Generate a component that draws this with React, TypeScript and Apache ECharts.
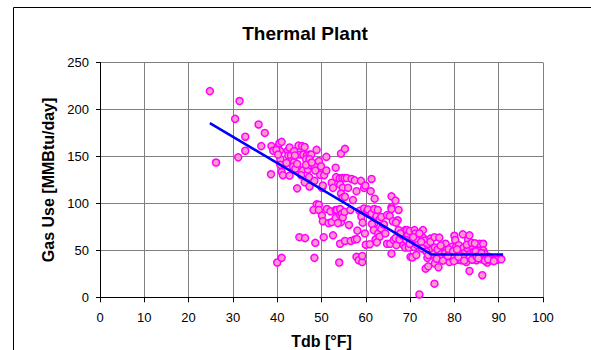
import React, { useEffect, useRef } from "react";
import * as echarts from "echarts";

const xTicks = [0, 10, 20, 30, 40, 50, 60, 70, 80, 90, 100];
const yTicks = [0, 50, 100, 150, 200, 250];

// Measured points: [Tdb °F, Gas Use MMBtu/day]
const measured: number[][] = [
  [24.8, 219.5], [26.2, 143.5], [31.5, 209], [30.5, 190], [31.2, 149], [32.8, 171], [32.8, 156],
  [35.8, 184], [36.4, 161], [37.2, 175], [38.6, 131], [38.7, 161], [39.1, 156], [40.1, 160],
  [40.5, 164], [41, 165.5], [40.6, 156], [40.7, 147], [40.7, 141], [41, 133.5], [41.3, 130],
  [40, 37], [41, 42], [42.4, 156], [42.8, 159.5], [42.5, 151], [43.1, 151], [43.3, 145],
  [43.8, 144], [42.8, 129.5], [43.6, 139], [44.8, 161.5], [45.6, 161], [46.2, 160], [45.2, 152],
  [45.9, 152], [46.7, 151], [47.3, 152], [47.7, 152], [46.5, 147], [47.3, 147], [44.9, 135],
  [45.6, 135], [44.5, 139], [44.1, 137], [45.4, 130], [46.2, 122.5], [46.9, 136], [47.6, 140.5],
  [47.2, 128], [47.3, 118], [44.5, 116], [48.4, 139.5], [48.9, 157], [49.4, 145], [49.6, 136],
  [49.9, 139.5], [49.7, 130.5], [48.4, 124], [50.1, 116.5], [50.3, 119], [50.6, 130], [51.1, 149.5],
  [51.1, 135], [53.2, 138], [52.3, 122], [52.6, 116.5], [53.6, 127], [54.4, 153], [55.3, 158],
  [53.3, 128], [54.1, 126.5], [54.7, 127], [55.2, 127], [54.2, 120], [54.8, 116.5], [54.4, 110.5],
  [54.8, 106], [55.7, 127], [56.8, 126], [56, 116.5], [57.5, 124.5], [58.9, 124], [57.9, 113],
  [59.6, 116.5], [59.9, 119], [61.3, 126], [61.1, 113], [62, 105],
  [39.8, 157], [40.2, 152], [42.1, 143], [43.8, 155.5], [44, 151], [46.5, 141], [47.8, 143.5],
  [48.6, 135], [44.5, 142], [55.3, 107], [57.1, 103.5],
  [48.9, 99], [49.4, 98.5], [48.2, 93], [49.4, 93], [50.1, 87], [50.3, 81], [51.2, 94],
  [52, 91.5], [51.6, 79], [52.3, 80], [52.6, 66], [53.2, 93], [53.6, 89], [53.2, 84.5],
  [53.5, 93], [54.2, 87.5], [54.2, 94], [54.4, 80], [53.7, 79], [54.6, 89], [54.8, 85],
  [55.2, 91], [54.2, 57], [55.3, 60], [56.5, 93], [56.2, 77], [56.6, 60], [57.5, 61.5],
  [58, 62], [58.1, 71], [58.6, 92], [59, 86], [59.3, 79.5], [59.8, 68], [60, 56],
  [59.6, 94.5], [60.3, 92], [60.5, 93.5], [61.3, 89], [61.9, 94], [62.4, 86.5], [61.9, 78.5],
  [61.4, 78], [60.9, 56.5], [61.8, 71.5], [62.2, 61.5], [62.8, 68], [63.1, 83], [63.5, 73],
  [63.1, 64.5], [62.5, 58.5], [64.1, 77.5], [62.7, 93], [63.5, 85.5],
  [45, 64], [46.3, 63], [48.6, 58], [50.5, 64], [48.4, 42], [54, 37], [57.9, 43],
  [58.4, 39.5], [59.2, 37.5], [59.2, 44],
  [65.8, 107.5], [66.7, 103], [65.8, 96], [65.8, 94], [67.4, 93], [64.8, 87.5], [65.4, 86.5],
  [66.1, 81], [67.2, 82], [66.8, 79.5], [64.4, 68], [64.8, 57], [65.5, 57], [65.8, 46.5],
  [66.3, 61], [66.7, 63], [66.9, 55.5], [67.4, 71.5], [67.6, 61.5], [68.2, 66], [68.5, 55.5],
  [68.9, 71.5], [69.3, 71.5], [69.5, 66], [69.9, 70.5], [68.9, 53], [69.7, 53], [70.1, 43],
  [70.5, 42.5], [70.4, 61.5], [71, 71.5], [71.2, 68], [71.4, 61.5], [70.9, 53.5], [71.6, 55.5],
  [71.4, 45], [72.1, 3], [72.9, 71.5], [72.9, 63.5], [73.3, 60.5], [73.7, 55.5], [73.3, 51],
  [73.9, 42], [73.5, 30.5], [74.1, 33], [74.6, 62.5], [74.6, 59], [74.6, 50], [75.5, 64],
  [75.6, 53], [75.5, 43], [75.6, 36], [75.5, 14.5], [76.4, 32], [76.6, 63.5], [76.8, 46.5],
  [67.8, 68], [69.1, 61], [69.9, 57], [70.7, 64], [72.1, 68], [72.5, 59], [72.7, 52],
  [73.7, 48.5], [74.1, 45],
  [77.2, 52], [77.6, 43], [78, 57], [78.2, 50.5], [78.4, 41], [78.9, 37.5], [79.1, 46.5],
  [79.5, 54], [79.7, 41], [80, 65.5], [80.2, 61], [80.4, 54], [80.6, 46.5], [80.7, 40],
  [81, 55.5], [81.3, 50], [81.4, 45], [81.6, 39.5], [81.9, 67], [82.1, 53], [82.3, 47],
  [82.5, 42], [82.7, 37.5], [83, 52], [83.1, 61.5], [83.4, 66], [83.4, 28], [83.6, 46.5],
  [83.8, 41], [84.2, 53.5], [84.4, 48.5], [84.7, 43], [85, 39.5], [85.3, 54.5], [85.5, 50],
  [85.7, 57], [85.9, 45], [86.1, 40.5], [86.5, 57], [86.5, 50], [86.3, 23.5], [86.8, 46.5],
  [87.1, 41], [87.4, 37], [87.8, 43], [88.2, 39.5], [88.6, 40], [89.2, 39.5], [89.7, 40],
  [90.6, 40.5], [75.3, 46], [76.2, 51], [77, 46], [77.9, 47], [78.7, 51], [79.3, 45],
  [79.7, 49], [80.6, 51], [81.9, 43], [83.5, 43.5], [84.8, 49], [84, 40], [85, 43], [86.1, 47],
  [76, 41], [76.9, 55], [77.4, 39], [78.5, 44], [79.9, 38.5], [80.9, 43], [82.8, 56],
  [83.9, 58], [84.6, 57.5], [85.4, 41.5], [86.9, 39], [87.6, 40.5], [88.9, 38.5], [82.2, 39],
];

const fitLineX = [24.8, 74.9, 91];
const fitLineY = [185.4, 45.5, 45.5];

export default function App() {
  const ref = useRef<HTMLDivElement>(null);
  useEffect(() => {
    if (!ref.current) return;
    const chart = echarts.init(ref.current, undefined, { renderer: "svg" });
    const axisFont = { fontFamily: "Arial, 'Liberation Sans', sans-serif" };
    chart.setOption({
      animation: false,
      backgroundColor: "#ffffff",
      textStyle: axisFont,
      graphic: [
        {
          type: "rect",
          z: -1,
          shape: { x: 13.5, y: 7.5, width: 700, height: 500 },
          style: { fill: "none", stroke: "#000000", lineWidth: 1 },
        },
        {
          type: "text",
          x: 305,
          y: 33,
          style: {
            text: "Thermal Plant",
            fontFamily: "Arial, 'Liberation Sans', sans-serif",
            fontWeight: "bold",
            fontSize: 19,
            fill: "#000000",
            textAlign: "center",
            textVerticalAlign: "middle",
          },
        },
      ],
      grid: { left: 100, right: 48, top: 62.5, bottom: 52.7, containLabel: false, outerBoundsMode: "none" },
      xAxis: {
        type: "value",
        min: xTicks[0],
        max: xTicks[xTicks.length - 1],
        interval: 10,
        name: "Tdb [°F]",
        nameLocation: "middle",
        nameGap: 36,
        nameTextStyle: { fontWeight: "bold", fontSize: 16, color: "#000", ...axisFont },
        axisLine: { show: true, onZero: false, lineStyle: { color: "#000", width: 1 } },
        axisTick: { show: true, length: 5, lineStyle: { color: "#000" } },
        axisLabel: { color: "#000", fontSize: 13, margin: 14, ...axisFont },
        splitLine: { show: true, lineStyle: { color: "#808080", width: 1 } },
      },
      yAxis: {
        type: "value",
        min: yTicks[0],
        max: yTicks[yTicks.length - 1],
        interval: 50,
        name: "Gas Use [MMBtu/day]",
        nameLocation: "middle",
        nameGap: 42,
        nameTextStyle: { fontWeight: "bold", fontSize: 16, color: "#000", ...axisFont },
        axisLine: { show: true, lineStyle: { color: "#000", width: 1 } },
        axisTick: { show: true, length: 4, lineStyle: { color: "#000" } },
        axisLabel: { color: "#000", fontSize: 13, margin: 11, ...axisFont },
        splitLine: { show: true, lineStyle: { color: "#808080", width: 1 } },
      },
      series: [
        {
          type: "scatter",
          data: measured,
          symbol: "circle",
          symbolSize: 7,
          itemStyle: { color: "#ff99cc", borderColor: "#ff00ff", borderWidth: 1.5, opacity: 1 },
          z: 2,
        },
        {
          type: "line",
          data: fitLineX.map((x, i) => [x, fitLineY[i]]),
          symbol: "none",
          lineStyle: { color: "#0000ff", width: 2.5 },
          z: 3,
        },
      ],
    });
    return () => chart.dispose();
  }, []);
  return (
    <div
      ref={ref}
      style={{ position: "fixed", left: 0, top: 0, width: 591, height: 350, background: "#fff" }}
    />
  );
}
